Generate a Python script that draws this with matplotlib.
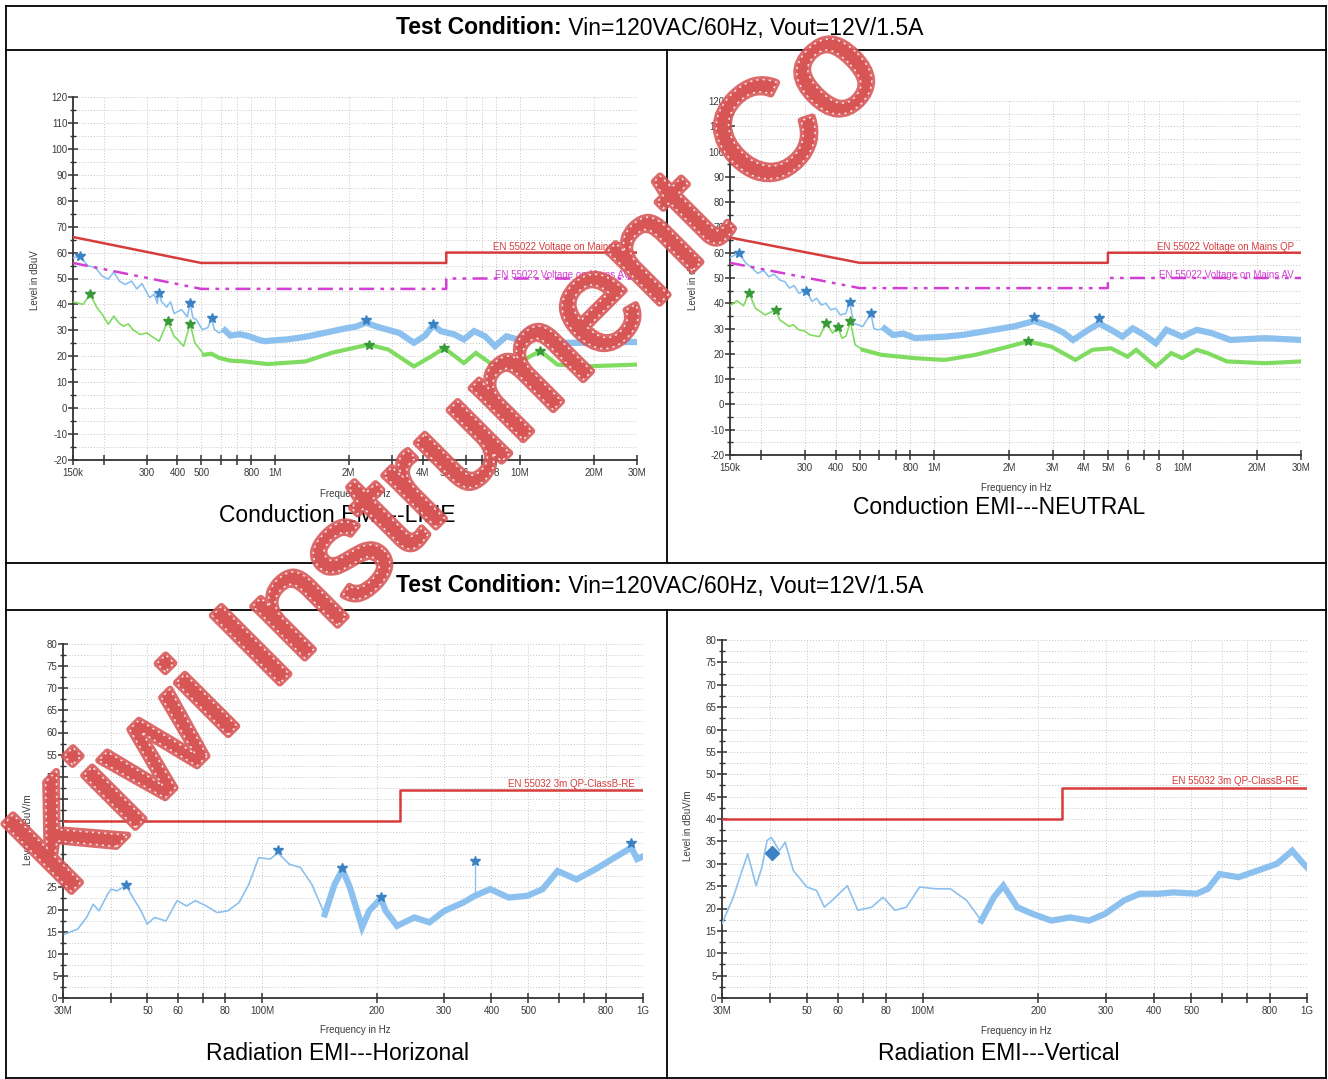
import matplotlib
matplotlib.use("Agg")
import matplotlib.pyplot as plt
from matplotlib.lines import Line2D
from matplotlib.ticker import FixedLocator, FixedFormatter, NullLocator
import matplotlib.patheffects as pe
import numpy as np

plt.rcParams['font.family'] = ['Liberation Sans', 'DejaVu Sans']
plt.rcParams['axes.unicode_minus'] = False

# ---------------- data (frequencies in MHz, levels in dB) ----------------
ce_qp_limit_f = [0.15, 0.5, 5, 5, 30]
ce_qp_limit_l = [66, 56, 56, 60, 60]
ce_av_limit_f = [0.15, 0.5, 5, 5, 30]
ce_av_limit_l = [56, 46, 46, 50, 50]

re_limit_f = [30, 230, 230, 1000]
re_limit_l = [40, 40, 47, 47]

line_qp_f = [0.150, 0.160, 0.172, 0.185, 0.197, 0.209, 0.220, 0.232, 0.245, 0.260, 0.273, 0.287,
             0.308, 0.322, 0.331, 0.335, 0.345, 0.362, 0.375, 0.388, 0.416, 0.439, 0.451, 0.462,
             0.479, 0.505, 0.532, 0.552, 0.565, 0.592, 0.625, 0.658, 0.72, 0.785, 0.85, 0.906,
             1.0, 1.12, 1.33, 1.59, 1.9, 2.15, 2.36, 2.5, 2.7, 3.22, 3.69, 4.1, 4.42, 4.75, 5.4,
             5.9, 6.5, 7.2, 7.9, 8.8, 9.8, 11, 12.7, 14.6, 18.5, 24, 30]
line_qp_l = [58, 58.5, 55, 54.2, 51, 49.7, 52.5, 49, 47.7, 49, 46, 48,
             42.6, 44, 40.4, 44.5, 41, 39, 41, 36.5, 38, 35.2, 40.6, 35,
             34, 30.3, 31, 34.8, 30.5, 29, 30, 28, 28.5, 27.7, 26.5, 25.8,
             26.2, 26.5, 27.5, 29, 30.6, 31.5, 33.0, 32, 31, 29, 25.2, 28, 32.0, 29.7, 28.4,
             26.5, 29.7, 27.7, 23.9, 27.7, 26.5, 30.3, 27.7, 25.2, 25.2, 25.5, 25.5]
line_qp_mk_f = [0.160, 0.335, 0.451, 0.552, 2.36, 4.42]
line_qp_mk_l = [58.7, 44.5, 40.6, 34.8, 34.0, 32.3]

line_av_f = [0.150, 0.165, 0.176, 0.188, 0.198, 0.209, 0.220, 0.230, 0.241, 0.252, 0.263, 0.282,
             0.300, 0.314, 0.337, 0.365, 0.388, 0.405, 0.424, 0.451, 0.471, 0.514, 0.55, 0.592,
             0.658, 0.75, 0.937, 1.33, 1.7, 2.0, 2.41, 2.9, 3.69, 4.35, 4.9, 5.9, 6.6, 7.7, 9.2,
             9.9, 11, 12.1, 14.2, 18.5, 30]
line_av_l = [41, 40, 43.9, 38.7, 36, 32.3, 35.5, 33, 31.6, 32.5, 30.3, 28.4,
             29, 27.7, 25.8, 33.5, 27.7, 26, 23.9, 32.5, 25.2, 20.6, 21, 19.4,
             18.3, 18, 17, 18, 21.3, 22.8, 24.5, 22.6, 16.1, 20, 23.2, 17.4, 21.3, 16.8, 18.7,
             17.4, 20, 22, 16.8, 16.1, 16.8]
line_av_mk_f = [0.176, 0.365, 0.451, 2.41, 4.9, 12.1]
line_av_mk_l = [43.9, 33.5, 32.5, 24.5, 23.2, 22.0]

neut_qp_f = [0.150, 0.163, 0.174, 0.184, 0.194, 0.205, 0.215, 0.226, 0.238, 0.25, 0.260, 0.272,
             0.284, 0.305, 0.321, 0.335, 0.350, 0.365, 0.382, 0.40, 0.417, 0.44, 0.455, 0.472,
             0.514, 0.555, 0.57, 0.591, 0.63, 0.68, 0.75, 0.835, 0.95, 1.1, 1.3, 1.57, 2.08, 2.53,
             2.95, 3.3, 3.62, 4.17, 4.6, 5.15, 5.72, 6.3, 7.0, 7.8, 8.6, 9.96, 11.4, 13.1, 15.6,
             21.5, 30]
neut_qp_l = [58, 60, 55.8, 54, 51.8, 53, 50.5, 51.5, 49.2, 48.5, 46, 47,
             44, 44.9, 40.7, 42, 39.3, 40, 37.4, 38, 35.4, 36, 40.7, 32.1,
             30.8, 36, 30, 29.5, 30, 27.5, 28, 26.2, 26.5, 26.8, 27.5, 28.8, 30.8, 33,
             30.8, 28.5, 25.5, 29.5, 32, 29.5, 26.8, 30.1, 27.5, 24.2, 29.5, 26.8, 29.5, 28.2, 25.5,
             26.2, 25.5]
neut_qp_mk_f = [0.163, 0.305, 0.455, 0.555, 2.53, 4.6]
neut_qp_mk_l = [60, 44.9, 40.7, 36, 34.7, 34.1]

neut_av_f = [0.150, 0.16, 0.170, 0.179, 0.190, 0.208, 0.229, 0.238, 0.25, 0.260, 0.27, 0.284,
             0.30, 0.315, 0.344, 0.366, 0.389, 0.407, 0.424, 0.44, 0.458, 0.479, 0.514, 0.612,
             0.835, 1.1, 1.46, 1.87, 2.38, 2.95, 3.7, 4.33, 5.15, 6.0, 6.5, 7.8, 9.0, 9.96, 11.4,
             12.6, 15.1, 21.5, 30]
neut_av_l = [39, 41, 39, 44, 38, 35.4, 37.4, 33.4, 32, 30.8, 31.5, 29.5,
             29, 27.5, 26.8, 32.1, 28.2, 30.8, 26.2, 27, 32.8, 23.6, 21.6, 19.6,
             18.3, 17.6, 19.6, 22.2, 24.9, 22.9, 17.6, 21.6, 22.2, 18.9, 21.6, 15, 20.3, 18.3, 21.6,
             20.3, 17, 16.3, 17]
neut_av_mk_f = [0.179, 0.229, 0.366, 0.407, 0.458, 2.38]
neut_av_mk_l = [44, 37.4, 32.1, 30.8, 32.8, 24.9]

horiz_f = [30.3, 32.8, 34.6, 36, 37.3, 39.3, 40.2, 41.6, 43.9, 45.8, 48.1, 49.9, 52.2, 55.9,
           59.8, 63.3, 66.8, 71.3, 76.2, 81.3, 87, 92.3, 97.9, 105, 110, 118, 126, 135, 146,
           155, 162.5, 170, 183, 191, 205, 211, 226, 251, 275, 301, 338, 360, 397,
           444, 497, 545, 597, 669, 750, 841, 932, 965, 1000]
horiz_l = [14.4, 15.6, 18.2, 21.2, 19.7, 23.5, 24.6, 24.2, 25.5, 22.7, 19.7, 16.7, 18.2, 17.4,
           22, 20.8, 22, 20.8, 19.3, 19.7, 21.6, 25.7, 31.7, 31.4, 32.8, 30.2, 29.5, 25.7, 18.9,
           25.7, 29, 25, 16, 19.7, 22.5, 19.7, 16.3, 18.2, 17.1, 19.7, 21.6, 23, 24.6,
           22.7, 23.1, 24.6, 28.7, 26.8, 29.1, 31.7, 34, 31.4, 32]
horiz_spike_f = [362, 362]
horiz_spike_l = [23.2, 31.0]
horiz_mk_f = [43.9, 110, 162.5, 205, 362, 932]
horiz_mk_l = [25.5, 33.4, 29.3, 22.9, 31.0, 35.1]

vert_f = [30, 32.1, 33.6, 35, 36.8, 38.1, 39.3, 40.3, 42.3, 43.8, 46, 49.9, 52.9, 55.4, 58.7,
          63.6, 67.7, 73.6, 78.8, 84.6, 90.6, 98.1, 108, 118, 130, 142, 153, 162, 176, 193,
          216, 242, 271, 298, 334, 367, 412, 449, 516, 552, 592, 663, 745, 835, 915, 979, 1000]
vert_l = [16.6, 22.5, 27.7, 32.2, 25.1, 29.2, 35.2, 35.9, 32.9, 34.8, 28.5, 24.8, 24, 20.3, 22.2,
          25.1, 19.6, 20.3, 22.5, 19.6, 20.3, 24.8, 24.4, 24.4, 21.8, 17.3, 22.5, 25.1, 20.3, 18.8,
          17.3, 18, 17.3, 18.8, 21.8, 23.3, 23.3, 23.6, 23.3, 24.4, 27.7, 27, 28.5, 30, 32.9, 30, 29.2]
vert_mk_f = [40.6]
vert_mk_l = [32.4]

ce_xticks = [0.15, 0.2, 0.3, 0.4, 0.5, 0.6, 0.7, 0.8, 1, 2, 3, 4, 5, 6, 7, 8, 10, 20, 30]
ce_xlabels = ['150k', '', '300', '400', '500', '', '', '800', '1M', '2M', '3M', '4M', '5M',
              '6', '', '8', '10M', '20M', '30M']
re_xticks = [30, 40, 50, 60, 70, 80, 100, 200, 300, 400, 500, 600, 700, 800, 1000]
re_xlabels = ['30M', '', '50', '60', '', '80', '100M', '200', '300', '400', '500', '', '',
              '800', '1G']

header_bold = 'Test Condition:'
header_rest = ' Vin=120VAC/60Hz, Vout=12V/1.5A'
captions = ['Conduction EMI---LINE', 'Conduction EMI---NEUTRAL',
            'Radiation EMI---Horizonal', 'Radiation EMI---Vertical']
watermark = 'Kiwi Instrument Co'

# ---------------- styling ----------------
W, H = 1328, 1079
fig = plt.figure(figsize=(W / 100, H / 100), dpi=100)
fig.patch.set_facecolor('white')

RED = '#d63c3c'
MAG = '#d23fd2'
BLUE = '#8cc1ef'
BLUE_MK = '#3b82c4'
GREEN = '#80dc60'
GREEN_MK = '#3a9a3a'
TICKC = '#3a3a3a'


def fx(px):
    return px / W


def fy(py):
    return 1 - py / H


def hline(x0, x1, y, lw=1.3):
    fig.add_artist(Line2D([fx(x0), fx(x1)], [fy(y), fy(y)], color='black', lw=lw))


def vline(x, y0, y1, lw=1.3):
    fig.add_artist(Line2D([fx(x), fx(x)], [fy(y0), fy(y1)], color='black', lw=lw))


# table frame
hline(6, 1326, 6)
hline(6, 1326, 50)
hline(6, 1326, 563)
hline(6, 1326, 610)
hline(6, 1326, 1078)
vline(6, 6, 1078)
vline(1326, 6, 1078)
vline(667, 50, 563)
vline(667, 610, 1078)


def header(y):
    t = fig.text(fx(396), fy(y), header_bold, fontsize=16.5, fontweight='bold',
                 ha='left', va='center')
    fig.canvas.draw()
    bb = t.get_window_extent()
    fig.text(bb.x1 / W, fy(y), header_rest, fontsize=16.5, ha='left', va='center')


header(28)
header(586)

cap_pos = [(337, 515), (999, 508), (337, 1053), (999, 1053)]
for (cx, cy), c in zip(cap_pos, captions):
    fig.text(fx(cx), fy(cy), c, fontsize=16.5, ha='center', va='center')


def make_axes(x0, x1, y0, y1):
    ax = fig.add_axes([fx(x0), fy(y1), (x1 - x0) / W, (y1 - y0) / H])
    ax.set_facecolor('white')
    for s in ('top', 'right'):
        ax.spines[s].set_visible(False)
    for s in ('left', 'bottom'):
        ax.spines[s].set_color('#333333')
        ax.spines[s].set_linewidth(1.3)
    ax.set_xscale('log')
    return ax


def style_axes(ax, xt, xl, ymin, ymax, ymaj, ymin_step):
    ax.set_ylim(ymin, ymax)
    ax.xaxis.set_major_locator(FixedLocator([v * 1e6 for v in xt]))
    ax.xaxis.set_major_formatter(FixedFormatter(xl))
    ax.xaxis.set_minor_locator(NullLocator())
    ax.yaxis.set_major_locator(FixedLocator(np.arange(ymin, ymax + 0.1, ymaj)))
    ax.yaxis.set_minor_locator(FixedLocator(np.arange(ymin, ymax + 0.1, ymin_step)))
    ax.tick_params(which='major', direction='inout', length=7, width=1.1, color='#333333',
                   labelsize=7, labelcolor=TICKC, pad=2)
    ax.tick_params(which='minor', direction='inout', length=5, width=1.0, color='#333333')
    ax.tick_params(axis='y', which='major', pad=0.5)
    ax.grid(True, which='both', linestyle=(0, (1, 2)), color='#c4c4c4', lw=0.7)
    ax.set_axisbelow(True)


def trace(ax, f, l, color, f_thick, lw_thin, lw_thick):
    fh = [v * 1e6 for v in f]
    ax.plot(fh, l, color=color, lw=lw_thin, zorder=3)
    idx = [i for i, v in enumerate(f) if v >= f_thick]
    ax.plot([fh[i] for i in idx], [l[i] for i in idx], color=color, lw=lw_thick,
            solid_joinstyle='miter', zorder=3)


def markers(ax, f, l, color, marker='*', size=7):
    ax.plot([v * 1e6 for v in f], l, linestyle='none', marker=marker, color=color,
            markersize=size, zorder=5)


# ---- conducted panels ----
ce_panels = [
    ((73, 637, 97, 460), line_qp_f, line_qp_l, line_qp_mk_f, line_qp_mk_l,
     line_av_f, line_av_l, line_av_mk_f, line_av_mk_l, 'EN 55022 Voltage on Mains QP'),
    ((730, 1301, 101, 455), neut_qp_f, neut_qp_l, neut_qp_mk_f, neut_qp_mk_l,
     neut_av_f, neut_av_l, neut_av_mk_f, neut_av_mk_l, 'EN 55022 Voltage on Mains QP'),
]
for (x0, x1, y0, y1), qf, ql, qmf, qml, af, al, amf, aml, qptxt in ce_panels:
    ax = make_axes(x0, x1, y0, y1)
    style_axes(ax, ce_xticks, ce_xlabels, -20, 120, 10, 5)
    ax.set_xlim(0.15e6, 30e6)
    ax.plot([v * 1e6 for v in ce_qp_limit_f], ce_qp_limit_l, color=RED, lw=1.8, zorder=4)
    ax.plot([v * 1e6 for v in ce_av_limit_f], ce_av_limit_l, color=MAG, lw=1.8,
            linestyle=(0, (6, 2.5, 1.5, 2.5, 1.5, 2.5)), zorder=4)
    trace(ax, qf, ql, BLUE, 0.6, 1.2, 4.5)
    trace(ax, af, al, GREEN, 0.5, 1.2, 3.0)
    markers(ax, qmf, qml, BLUE_MK)
    markers(ax, amf, aml, GREEN_MK)
    ax.text(28e6, 60.4, qptxt, color=RED, fontsize=7, ha='right', va='bottom', zorder=6)
    ax.text(28e6, 49.4, 'EN 55022 Voltage on Mains AV', color=MAG, fontsize=7,
            ha='right', va='bottom', zorder=6)

fig.text(fx(355), fy(494), 'Frequency in Hz', fontsize=7, color=TICKC, ha='center', va='center')
fig.text(fx(1016), fy(488), 'Frequency in Hz', fontsize=7, color=TICKC, ha='center', va='center')
fig.text(fx(35), fy(280), 'Level in dBuV', fontsize=7, color=TICKC, rotation=90,
         ha='center', va='center')
fig.text(fx(693), fy(280), 'Level in dBuV', fontsize=7, color=TICKC, rotation=90,
         ha='center', va='center')

# ---- radiated panels ----
re_panels = [
    ((63, 643, 644, 998), horiz_f, horiz_l, horiz_mk_f, horiz_mk_l, '*', 7, True),
    ((722, 1307, 640, 998), vert_f, vert_l, vert_mk_f, vert_mk_l, 'D', 7, False),
]
for (x0, x1, y0, y1), tf, tl, mf, ml, mk, ms, spike in re_panels:
    ax = make_axes(x0, x1, y0, y1)
    style_axes(ax, re_xticks, re_xlabels, 0, 80, 5, 2.5)
    ax.set_xlim(30e6, 1000e6)
    ax.plot([v * 1e6 for v in re_limit_f], re_limit_l, color=RED, lw=1.8, zorder=4)
    trace(ax, tf, tl, BLUE, 140, 1.2, 4.5)
    if spike:
        ax.plot([v * 1e6 for v in horiz_spike_f], horiz_spike_l, color=BLUE, lw=1.0, zorder=3)
    markers(ax, mf, ml, BLUE_MK, marker=mk, size=ms)
    ax.text(950e6, 47.3, 'EN 55032 3m QP-ClassB-RE', color=RED, fontsize=7,
            ha='right', va='bottom', zorder=6)

fig.text(fx(355), fy(1030), 'Frequency in Hz', fontsize=7, color=TICKC, ha='center', va='center')
fig.text(fx(1016), fy(1031), 'Frequency in Hz', fontsize=7, color=TICKC, ha='center', va='center')
fig.text(fx(28), fy(830), 'Level in dBuV/m', fontsize=7, color=TICKC, rotation=90,
         ha='center', va='center')
fig.text(fx(688), fy(826), 'Level in dBuV/m', fontsize=7, color=TICKC, rotation=90,
         ha='center', va='center')

# ---- watermark ----
WM = '#d85555'
fig.text(fx(450), fy(462), watermark, rotation=45, rotation_mode='anchor',
         ha='center', va='center', fontsize=100, color=WM, alpha=0.88, zorder=20,
         path_effects=[pe.Stroke(linewidth=5, foreground=WM),
                       pe.Normal(),
                       pe.Stroke(linewidth=1.1, foreground='white',
                                 dashes=dict(dash_offset=0, dash_list=[1.5, 3]))])

fig.savefig('out.png', dpi=100, facecolor='white')
